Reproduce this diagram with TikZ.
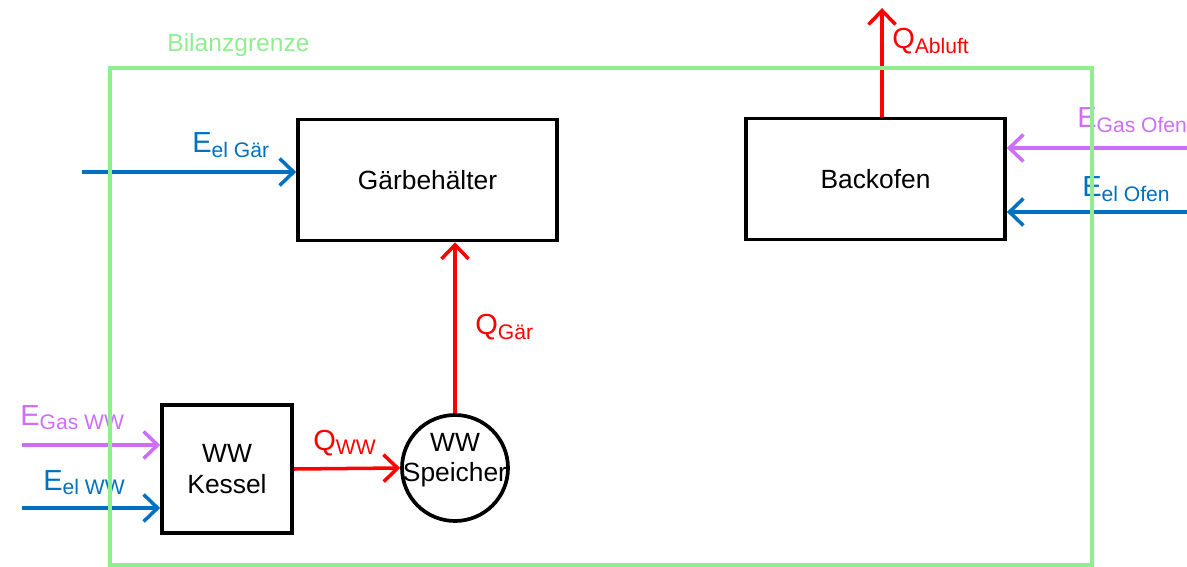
\documentclass[tikz,border=0pt]{standalone}
\usepackage{fontspec}
\setmainfont{Liberation Sans}
\usepackage{tikz}
\usetikzlibrary{arrows.meta}

\definecolor{grenzgruen}{RGB}{144,238,144}
\definecolor{elblau}{RGB}{0,112,192}
\definecolor{gaslila}{RGB}{204,110,250}
\definecolor{qrot}{RGB}{255,0,0}

\newcommand{\strom}[2]{{\fontsize{16.5}{16}\selectfont #1}\raisebox{-0.45ex}{\fontsize{12}{12}\selectfont #2}}

\tikzset{
  anlage/.style={draw, line width=2.1pt, minimum width=5.18cm, minimum height=2.42cm, font=\fontsize{15}{17.5}\selectfont, align=center},
  pfeil/.style={line width=2pt, -{Straight Barb[length=2.8mm, width=5.4mm, line width=2pt]}},
  flussname/.style={anchor=base west, inner sep=0pt}
}

\begin{document}
\begin{tikzpicture}[x=0.2mm, y=-0.2mm]

  \useasboundingbox (0,0) rectangle (1187,567);

  \node[anlage] (gaer) at (427.5,180) {G\"arbeh\"alter};
  \node[anlage] (ofen) at (875.5,179) {Backofen};
  \node[anlage, minimum width=2.6cm, minimum height=2.56cm] (kessel) at (227,469) {WW\\Kessel};
  \node[draw, circle, line width=2.1pt, minimum size=2.12cm, inner sep=0pt,
        label={[font=\fontsize{15}{17}\selectfont, align=center, yshift=4.5pt]center:WW\\Speicher}] (speicher) at (455,468) {};

  \coordinate (elgaer) at (82,172);
  \coordinate (gasofen) at (1187,148);
  \coordinate (elofen) at (1187,212);
  \coordinate (gasww) at (22,445);
  \coordinate (elww) at (22,508);
  \coordinate (abluft) at (882,8);

  \draw[pfeil, elblau] (elgaer) -- (elgaer -| gaer.west); % el Gaer
  \draw[pfeil, gaslila] (gasofen) -- (gasofen -| ofen.east); % Gas Ofen
  \draw[pfeil, elblau] (elofen) -- (elofen -| ofen.east); % el Ofen
  \draw[pfeil, gaslila] (gasww) -- (gasww -| kessel.west); % Gas WW
  \draw[pfeil, elblau] (elww) -- (elww -| kessel.west); % el WW

  \draw[pfeil, qrot] (kessel.east) -- (speicher.west);
  \draw[pfeil, qrot] (speicher.north) -- (speicher.north |- gaer.south);
  \draw[pfeil, qrot] (abluft |- ofen.north) -- (abluft);

  \node[flussname, elblau] (lelgaer) at (192,153) {\strom{E}{el G\"ar}};
  \node[flussname, gaslila] (lgasofen) at (1077,128) {\strom{E}{Gas Ofen}};
  \node[flussname, elblau] (lelofen) at (1082,197) {\strom{E}{el Ofen}};
  \node[flussname, gaslila] (lgasww) at (20,425) {\strom{E}{Gas WW}};
  \node[flussname, elblau] (lelww) at (43,490) {\strom{E}{el WW}};
  \node[flussname, qrot] (lqww) at (313,450) {\strom{Q}{WW}};
  \node[flussname, qrot] (lqgaer) at (475,335) {\strom{Q}{G\"ar}};
  \node[flussname, qrot] (lqabluft) at (892,49) {\strom{Q}{Abluft}};

  \draw[grenzgruen, line width=2.3pt] (110,68) rectangle (1092,565);
  \node[flussname, grenzgruen, font=\fontsize{14}{14}\selectfont] (lgrenze) at (167,52) {Bilanzgrenze};

\end{tikzpicture}
\end{document}
